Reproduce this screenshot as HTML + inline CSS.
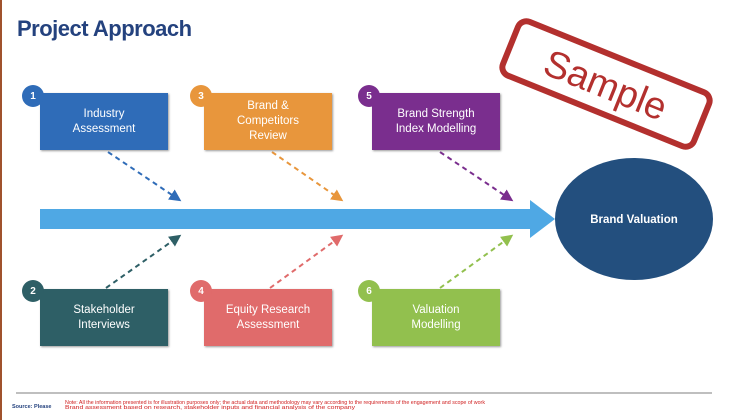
<!DOCTYPE html>
<html><head><style>
body{margin:0;width:736px;height:420px;background:#fff;position:relative;overflow:hidden;font-family:"Liberation Sans",sans-serif}
.t{position:absolute;left:17px;top:16px;font-size:22px;font-weight:bold;color:#24427e;letter-spacing:-0.5px}
.b{position:absolute;width:128px;height:57px;color:#fff;font-size:11.5px;display:flex;align-items:center;justify-content:center;text-align:center;line-height:15px;box-shadow:1px 1px 2px #999}
.c{position:absolute;width:22px;height:22px;border-radius:50%;color:#fff;font-size:10px;font-weight:bold;display:flex;align-items:center;justify-content:center}
</style></head><body>
<div style="position:absolute;left:0;top:0;width:2px;height:420px;background:#a0522d"></div>
<div class="t">Project Approach</div>
<svg width="736" height="420" style="position:absolute;left:0;top:0">
<defs>
<marker id="m1" markerWidth="6" markerHeight="6" refX="4" refY="3" orient="auto"><path d="M0,0L6,3L0,6z" fill="#2f6cb8"/></marker>
<marker id="m3" markerWidth="6" markerHeight="6" refX="4" refY="3" orient="auto"><path d="M0,0L6,3L0,6z" fill="#e8963c"/></marker>
<marker id="m5" markerWidth="6" markerHeight="6" refX="4" refY="3" orient="auto"><path d="M0,0L6,3L0,6z" fill="#7a2e8e"/></marker>
<marker id="m2" markerWidth="6" markerHeight="6" refX="4" refY="3" orient="auto"><path d="M0,0L6,3L0,6z" fill="#2e5f66"/></marker>
<marker id="m4" markerWidth="6" markerHeight="6" refX="4" refY="3" orient="auto"><path d="M0,0L6,3L0,6z" fill="#e06b6b"/></marker>
<marker id="m6" markerWidth="6" markerHeight="6" refX="4" refY="3" orient="auto"><path d="M0,0L6,3L0,6z" fill="#92c04e"/></marker>
</defs>
<path d="M40,209H530V200L555,219L530,238V229H40Z" fill="#4fa8e4"/>
<ellipse cx="634" cy="219" rx="79" ry="61" fill="#234f7e"/>
<text x="634" y="223" fill="#fff" font-size="11.5" font-weight="bold" text-anchor="middle" font-family="Liberation Sans">Brand Valuation</text>
<g stroke-width="2" stroke-dasharray="5,4" fill="none">
<line x1="108" y1="152" x2="178" y2="199" stroke="#2f6cb8" marker-end="url(#m1)"/>
<line x1="272" y1="152" x2="340" y2="199" stroke="#e8963c" marker-end="url(#m3)"/>
<line x1="440" y1="152" x2="510" y2="199" stroke="#7a2e8e" marker-end="url(#m5)"/>
<line x1="106" y1="288" x2="178" y2="237" stroke="#2e5f66" marker-end="url(#m2)"/>
<line x1="270" y1="288" x2="340" y2="237" stroke="#e06b6b" marker-end="url(#m4)"/>
<line x1="440" y1="288" x2="510" y2="237" stroke="#92c04e" marker-end="url(#m6)"/>
</g>
<g transform="rotate(22 606 84)">
<rect x="503" y="55" width="206" height="58" rx="9" fill="#fff" stroke="#b3302e" stroke-width="6"/>
<text x="606" y="98" fill="#b3302e" font-size="38" text-anchor="middle" font-family="Liberation Sans">Sample</text>
</g>
<line x1="16" y1="393" x2="712" y2="393" stroke="#aaa" stroke-width="1.5"/>
<text x="12" y="408" font-size="5.5" font-weight="bold" fill="#24427e" font-family="Liberation Sans">Source: Please</text>
<text x="65" y="404" font-size="5.5" fill="#d02020" font-family="Liberation Sans" textLength="420" lengthAdjust="spacingAndGlyphs">Note: All the information presented is for illustration purposes only; the actual data and methodology may vary according to the requirements of the engagement and scope of work</text>
<text x="65" y="409" font-size="5.5" fill="#d02020" font-family="Liberation Sans" textLength="290" lengthAdjust="spacingAndGlyphs">Brand assessment based on research, stakeholder inputs and financial analysis of the company</text>
</svg>
<div class="b" style="left:40px;top:93px;background:#2f6cb8">Industry<br>Assessment</div>
<div class="b" style="left:204px;top:93px;background:#e8963c">Brand &amp;<br>Competitors<br>Review</div>
<div class="b" style="left:372px;top:93px;background:#7a2e8e">Brand Strength<br>Index Modelling</div>
<div class="b" style="left:40px;top:289px;background:#2e5f66">Stakeholder<br>Interviews</div>
<div class="b" style="left:204px;top:289px;background:#e06b6b">Equity Research<br>Assessment</div>
<div class="b" style="left:372px;top:289px;background:#92c04e">Valuation<br>Modelling</div>
<div class="c" style="left:22px;top:85px;background:#2f6cb8">1</div>
<div class="c" style="left:190px;top:85px;background:#e8963c">3</div>
<div class="c" style="left:358px;top:85px;background:#7a2e8e">5</div>
<div class="c" style="left:22px;top:280px;background:#2e5f66">2</div>
<div class="c" style="left:190px;top:280px;background:#e06b6b">4</div>
<div class="c" style="left:358px;top:280px;background:#92c04e">6</div>
</body></html>
